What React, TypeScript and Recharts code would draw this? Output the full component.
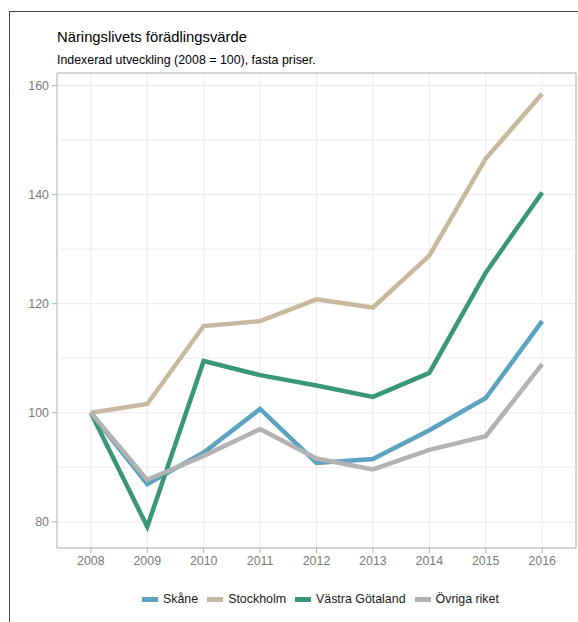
import React from "react";
import {
  LineChart,
  Line,
  XAxis,
  YAxis,
  CartesianGrid,
  ReferenceLine,
  ReferenceArea,
  Legend,
} from "recharts";

// Values (index, 2008 = 100)
const YEARS = [2008, 2009, 2010, 2011, 2012, 2013, 2014, 2015, 2016];
const SKANE = [100, 86.9, 92.7, 100.7, 90.8, 91.5, 96.8, 102.7, 116.8];
const STOCKHOLM = [100, 101.6, 115.9, 116.8, 120.8, 119.3, 128.8, 146.6, 158.5];
const VASTRA = [100, 79.1, 109.5, 106.9, 105.0, 102.9, 107.3, 125.7, 140.4];
const OVRIGA = [100, 87.7, 92.1, 97.0, 91.6, 89.6, 93.2, 95.7, 108.9];

const Y_TICKS = [80, 100, 120, 140, 160];
const Y_MINOR = [90, 110, 130, 150];

const SERIES = [
  { key: "skane", name: "Skåne", values: SKANE, color: "#5ba3c1" },
  { key: "stockholm", name: "Stockholm", values: STOCKHOLM, color: "#c8b89e" },
  { key: "vastra", name: "Västra Götaland", values: VASTRA, color: "#3a9679" },
  { key: "ovriga", name: "Övriga riket", values: OVRIGA, color: "#b2b2b2" },
];

const data = YEARS.map((year, i) => {
  const row: Record<string, number> = { year };
  SERIES.forEach((s) => {
    row[s.key] = s.values[i];
  });
  return row;
});

const FONT = '"Liberation Sans", Arial, Helvetica, sans-serif';
const X_DOMAIN = [2007.4, 2016.6];
const Y_DOMAIN = [75.2, 162.3];

const tickStyle = { fill: "#7a7a7a", fontSize: 12.4, fontFamily: FONT };

const LegendContent = () => (
  <div
    style={{
      display: "flex",
      alignItems: "center",
      fontFamily: FONT,
      fontSize: 12.4,
      color: "#1a1a1a",
      lineHeight: 1,
    }}
  >
    {SERIES.map((s) => (
      <div key={s.key} style={{ display: "flex", alignItems: "center", marginRight: 9 }}>
        <span
          style={{
            display: "inline-block",
            width: 16,
            height: 5,
            background: s.color,
            marginRight: 5,
          }}
        />
        <span>{s.name}</span>
      </div>
    ))}
  </div>
);

export default function App() {
  return (
    <div
      style={{
        position: "absolute",
        left: 0,
        top: 0,
        width: 578,
        height: 622,
        overflow: "hidden",
        background: "#fff",
      }}
    >
      {/* outer frame */}
      <div
        style={{
          position: "absolute",
          left: 9,
          top: 11,
          width: 700,
          height: 800,
          border: "1.5px solid #444",
          boxSizing: "border-box",
        }}
      />
      <div
        style={{
          position: "absolute",
          left: 57,
          top: 30.2,
          fontFamily: FONT,
          fontSize: 14.8,
          lineHeight: 1,
          color: "#000",
          whiteSpace: "nowrap",
        }}
      >
        Näringslivets förädlingsvärde
      </div>
      <div
        style={{
          position: "absolute",
          left: 57,
          top: 53.8,
          fontFamily: FONT,
          fontSize: 12.4,
          lineHeight: 1,
          color: "#000",
          whiteSpace: "nowrap",
        }}
      >
        Indexerad utveckling (2008 = 100), fasta priser.
      </div>
      <div style={{ position: "absolute", left: 0, top: 0 }}>
        <LineChart
          width={578}
          height={622}
          data={data}
          margin={{ top: 73, right: 2, bottom: 44, left: 0 }}
        >
          <CartesianGrid stroke="#ebebeb" strokeWidth={1} />
          {Y_MINOR.map((v) => (
            <ReferenceLine key={v} y={v} stroke="#ebebeb" strokeWidth={1} />
          ))}
          <XAxis
            dataKey="year"
            type="number"
            domain={X_DOMAIN}
            ticks={YEARS}
            allowDataOverflow
            axisLine={false}
            tickLine={{ stroke: "#b3b3b3" }}
            tickSize={5}
            tickMargin={3}
            height={30}
            tick={tickStyle}
          />
          <YAxis
            type="number"
            domain={Y_DOMAIN}
            ticks={Y_TICKS}
            allowDataOverflow
            axisLine={false}
            tickLine={{ stroke: "#b3b3b3" }}
            tickSize={5}
            tickMargin={3}
            width={57}
            tick={tickStyle}
          />
          <ReferenceArea
            x1={X_DOMAIN[0]}
            x2={X_DOMAIN[1]}
            y1={Y_DOMAIN[0]}
            y2={Y_DOMAIN[1]}
            fill="none"
            fillOpacity={0}
            stroke="#b3b3b3"
            strokeWidth={1}
          />
          {SERIES.map((s) => (
            <Line
              key={s.key}
              type="linear"
              dataKey={s.key}
              name={s.name}
              stroke={s.color}
              strokeWidth={4.5}
              strokeLinejoin="miter"
              strokeLinecap="butt"
              dot={false}
              activeDot={false}
              isAnimationActive={false}
            />
          ))}
          <Legend
            layout="horizontal"
            verticalAlign="middle"
            align="center"
            content={<LegendContent />}
            wrapperStyle={{ position: "absolute", top: 593, left: 142, width: "auto" }}
          />
        </LineChart>
      </div>
    </div>
  );
}
